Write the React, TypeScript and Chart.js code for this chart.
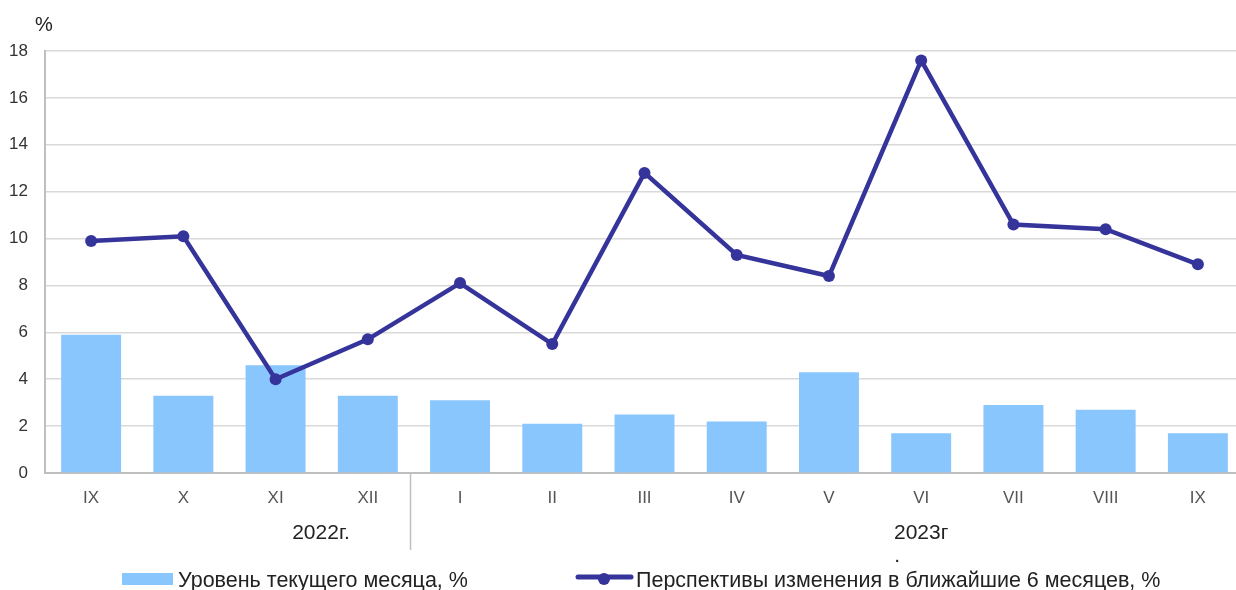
import React, { useEffect, useRef } from "react";
import { Chart, registerables } from "chart.js";

Chart.register(...registerables);

const categories = ["IX", "X", "XI", "XII", "I", "II", "III", "IV", "V", "VI", "VII", "VIII", "IX"];
const currentLevel = [5.9, 3.3, 4.6, 3.3, 3.1, 2.1, 2.5, 2.2, 4.3, 1.7, 2.9, 2.7, 1.7];
const outlook = [9.9, 10.1, 4.0, 5.7, 8.1, 5.5, 12.8, 9.3, 8.4, 17.6, 10.6, 10.4, 8.9];
const barLabel = "Уровень текущего месяца, %";
const lineLabel = "Перспективы изменения в ближайшие 6 месяцев, %";
const yearLabels = ["2022г.", "2023г"];
const yTicks = [0, 2, 4, 6, 8, 10, 12, 14, 16, 18];

const BAR_COLOR = "#89C6FD";
const LINE_COLOR = "#35349A";
const FONT = "'Liberation Sans', Arial, sans-serif";

const overlayPlugin = {
  id: "overlay",
  afterDraw(chart: any) {
    const ctx = chart.ctx;
    const x = chart.scales.x;
    const area = chart.chartArea;
    ctx.save();
    // % unit label
    ctx.fillStyle = "#222";
    ctx.font = `20px ${FONT}`;
    ctx.textAlign = "left";
    ctx.textBaseline = "middle";
    ctx.fillText("%", 35, 25);
    // separator between years
    const sepX = (x.getPixelForValue(3) + x.getPixelForValue(4)) / 2 - 4;
    ctx.strokeStyle = "#BFBFBF";
    ctx.lineWidth = 1.5;
    ctx.beginPath();
    ctx.moveTo(Math.round(sepX) + 0.5, area.bottom);
    ctx.lineTo(Math.round(sepX) + 0.5, 550);
    ctx.stroke();
    // year labels
    ctx.fillStyle = "#222";
    ctx.font = `21px ${FONT}`;
    ctx.textAlign = "center";
    ctx.fillText(yearLabels[0], 321, 533);
    const x2023 = x.getPixelForValue(9);
    ctx.fillText(yearLabels[1], x2023, 533);
    ctx.fillText(".", x2023 - 24, 556);
    // legend
    ctx.fillStyle = BAR_COLOR;
    ctx.fillRect(122, 573, 51, 12);
    ctx.fillStyle = "#222";
    ctx.textAlign = "left";
    ctx.font = `21.5px ${FONT}`;
    ctx.fillText(barLabel, 178, 581);
    ctx.strokeStyle = LINE_COLOR;
    ctx.lineWidth = 5;
    ctx.lineCap = "round";
    ctx.beginPath();
    ctx.moveTo(578, 577);
    ctx.lineTo(631, 577);
    ctx.stroke();
    ctx.fillStyle = LINE_COLOR;
    ctx.beginPath();
    ctx.arc(604, 579, 6, 0, Math.PI * 2);
    ctx.fill();
    ctx.fillStyle = "#222";
    ctx.fillText(lineLabel, 636, 581);
    ctx.restore();
  },
};

export default function App() {
  const ref = useRef<HTMLCanvasElement | null>(null);
  useEffect(() => {
    document.body.style.margin = "0";
    const chart = new Chart(ref.current as HTMLCanvasElement, {
      type: "bar",
      data: {
        labels: categories,
        datasets: [
          {
            type: "line",
            label: lineLabel,
            data: outlook,
            borderColor: LINE_COLOR,
            backgroundColor: LINE_COLOR,
            borderWidth: 4.5,
            pointRadius: 6,
            pointBackgroundColor: LINE_COLOR,
            pointBorderWidth: 0,
            tension: 0,
            order: 0,
          } as any,
          {
            type: "bar",
            label: barLabel,
            data: currentLevel,
            backgroundColor: BAR_COLOR,
            categoryPercentage: 0.65,
            barPercentage: 1,
            order: 1,
          },
        ],
      },
      options: {
        animation: false,
        responsive: true,
        maintainAspectRatio: false,
        layout: { padding: { top: 51, bottom: 0, left: 0, right: 5 } },
        plugins: { legend: { display: false }, tooltip: { enabled: false } },
        scales: {
          x: {
            grid: { display: false, drawTicks: false },
            border: { display: true, color: "#BFBFBF", width: 2 },
            ticks: { color: "#555", font: { family: FONT, size: 17 }, padding: 15 },
            afterFit(scale: any) {
              scale.height = 590 - 473;
            },
          },
          y: {
            min: 0,
            max: 18,
            afterBuildTicks(scale: any) {
              scale.ticks = yTicks.map((v) => ({ value: v }));
            },
            grid: { color: "#D9D9D9", lineWidth: 1.5, drawTicks: false },
            border: { display: true, color: "#BFBFBF", width: 2 },
            ticks: { color: "#333", font: { family: FONT, size: 17 }, padding: 17 },
            afterFit(scale: any) {
              scale.width = 45;
            },
          },
        },
      },
      plugins: [overlayPlugin],
    });
    return () => chart.destroy();
  }, []);
  return (
    <div style={{ position: "absolute", left: 0, top: 0, width: 1236, height: 590, overflow: "hidden" }}>
      <div style={{ position: "relative", width: 1250, height: 590 }}>
        <canvas ref={ref} />
      </div>
    </div>
  );
}
